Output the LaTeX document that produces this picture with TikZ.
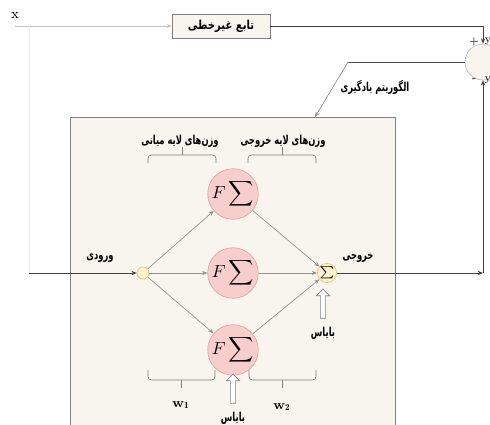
\documentclass[tikz,border=0pt]{standalone}
\usepackage{fontspec}
\usepackage{amsmath,amssymb}
\usetikzlibrary{shapes,arrows.meta,positioning,calc}
\newfontfamily\fafont[Script=Arabic]{DejaVu Sans}
\TeXXeTstate=1
\newcommand{\fa}[2][0.68]{\scalebox{#1}[1]{\fafont\bfseries\beginR #2\endR}}
\definecolor{boxfill}{HTML}{F7F5EE}
\definecolor{pinkfill}{HTML}{F8CECC}
\definecolor{pinkline}{HTML}{E3A3A1}
\definecolor{yelfill}{HTML}{FFF2CC}
\definecolor{yelline}{HTML}{E0C77A}

\begin{document}
\begin{tikzpicture}[x=0.02cm,y=-0.02cm,
  lbl/.style={font=\fontsize{7}{8}\selectfont, inner sep=1pt},
  conn/.style={draw=gray!85, line width=0.4pt, -{Stealth[length=3pt,width=2.4pt]}},
  dark/.style={draw=black!75, line width=0.4pt, -{Stealth[length=3pt,width=2.4pt]}},
  neuron/.style={circle, draw=pinkline, fill=pinkfill, minimum size=0.95cm, inner sep=0pt},
  dot/.style={circle, draw=yelline, fill=yelfill, inner sep=0pt},
  bracket/.style={draw=gray, line width=0.4pt, rounded corners=2pt},
  biasarrow/.style={single arrow, draw=gray, fill=white, shape border rotate=90,
    minimum height=0.58cm, inner sep=1.3pt, single arrow head extend=2.2pt}]
  \clip (0,0) rectangle (490,425);
  \fill[white] (0,0) rectangle (490,425);

  % network box
  \draw[draw=gray, fill=boxfill] (70,117) rectangle (395,440);
  \coordinate (tgt) at (315,117);

  % outer loop
  \node[font=\fontsize{8}{9}\selectfont] (xlbl) at (15,15) {x};
  \coordinate (xin) at (15,26);
  \coordinate (split) at (29,26);
  \coordinate (tap) at (29,273);
  \node[draw=gray, fill=boxfill, minimum width=1.96cm, minimum height=0.48cm, lbl,
    font=\fontsize{7}{8}\selectfont] (nl) at (221,26) {\fa[0.82]{تابع غیرخطی}};
  \node[circle, draw=gray!50, fill=boxfill, minimum size=0.72cm, inner sep=0pt] (err) at (483,62) {};
  \node[font=\fontsize{6}{7}\selectfont] (plus) at (474,42) {+};
  \node[font=\fontsize{6}{7}\selectfont] (minus) at (474,80) {-};
  \node[font=\fontsize{6}{7}\selectfont] (yd) at (488,41) {y};
  \node[font=\fontsize{6}{7}\selectfont] (yo) at (488,80) {y};
  \coordinate (bend) at (348,62);
  \coordinate (corner) at (483,273);
  \node[lbl] (learn) at (375,87) {\fa{الگوریتم یادگیری}};

  % network
  \node[dot, minimum size=0.24cm] (in) at (143,273) {};
  \node[neuron] (h1) at (233,194) {$F\displaystyle\sum$};
  \node[neuron] (h2) at (233,273) {$F\displaystyle\sum$};
  \node[neuron] (h3) at (233,350) {$F\displaystyle\sum$};
  \node[dot, minimum size=0.38cm] (out) at (327,273) {$\scriptstyle\sum$};
  \node[lbl] (inlbl) at (100,258) {\fa{ورودی}};
  \node[lbl] (outlbl) at (358,258) {\fa{خروجی}};
  \node[lbl] (wmid) at (180,141) {\fa{وزن‌های لایه میانی}};
  \node[lbl] (wout) at (283,141) {\fa{وزن‌های لایه خروجی}};
  \node[biasarrow] (b1) at (323,305) {};
  \node[lbl] (b1lbl) at (323,333) {\fa{بایاس}};
  \node[biasarrow] (b2) at (233,390) {};
  \node[lbl] (b2lbl) at (233,418) {\fa{بایاس}};
  \node[font=\fontsize{7.5}{8}\selectfont\bfseries] (w1) at (181,405) {w$_{\mathbf{1}}$};
  \node[font=\fontsize{7.5}{8}\selectfont\bfseries] (w2) at (282,407) {w$_{\mathbf{2}}$};

  % brackets
  \draw[bracket] (148,163) -- (148,155) -- (216,155) -- (216,163);
  \draw[bracket] (182,155) -- (182,147);
  \draw[bracket] (248,163) -- (248,155) -- (316,155) -- (316,163);
  \draw[bracket] (282,155) -- (282,147);
  \draw[bracket] (148,370) -- (148,380) -- (215,380) -- (215,370);
  \draw[bracket] (181,380) -- (181,388);
  \draw[bracket] (249,370) -- (249,380) -- (316,380) -- (316,370);
  \draw[bracket] (282,380) -- (282,388);

  % connectors
  \draw[draw=gray!50] (xin) -- (split);
  \draw[draw=gray!50, -{Stealth[length=2.5pt,width=2pt]}] (split) -- (nl.west);
  \draw[draw=black!6] (split) -- (tap);
  \draw[dark] (tap) -- (in);
  \draw[dark] (nl.east) -| (err.north);
  \draw[draw=black!70] (err.west) -- (bend);
  \draw[conn] (bend) -- (tgt);
  \draw[conn] (in) -- (h1);
  \draw[conn] (in) -- (h2);
  \draw[conn] (in) -- (h3);
  \draw[conn] (h1) -- (out);
  \draw[conn] (h2) -- (out);
  \draw[conn] (h3) -- (out);
  \draw[dark] (out) -- (corner);
  \draw[dark] (corner) -- (err.south);
\end{tikzpicture}
\end{document}
